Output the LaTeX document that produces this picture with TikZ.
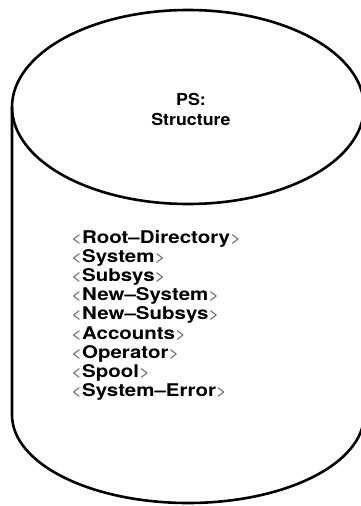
\documentclass[tikz,border=0pt]{standalone}
\usepackage{fontspec}
\usepackage{graphicx}
\setmainfont{TeX Gyre Heros}
\begin{document}
\begin{tikzpicture}[x=1pt,y=-1pt,
  outline/.style={line width=2.6pt, line join=round},
  entry/.style={anchor=base west, inner sep=0pt, font=\fontsize{17.5}{20}\selectfont\bfseries},
  title/.style={anchor=base, inner sep=0pt, font=\fontsize{16.5}{20}\selectfont\bfseries}]
\useasboundingbox (0,0) rectangle (361,506);
\newcommand{\ang}[1]{\scalebox{1.17}[1]{{\color{black!60}\mdseries\fontsize{16}{20}\selectfont<}#1{\color{black!60}\mdseries\fontsize{16}{20}\selectfont>}}}

% cylinder outline, cut at the right page edge
\begin{scope}
  \clip (0,0) rectangle (361,506);
  \draw[outline] (188,107) ellipse [x radius=176, y radius=97];
  \draw[outline] (12,107) -- (12,415)
    arc[start angle=180, end angle=0, x radius=176, y radius=88] -- (364,107);
\end{scope}

% label on the lid
\node[title] (ps) at (191,105) {\scalebox{1.08}[1]{PS:}};
\node[title] (structure) at (191,125) {\scalebox{1.08}[1]{Structure}};

% directory entries
\node[entry] (root)   at (71,243.0) {\ang{Root–Directory}};
\node[entry] (system) at (71,262.2) {\ang{System}};
\node[entry] (subsys) at (71,281.4) {\ang{Subsys}};
\node[entry] (newsys) at (71,300.6) {\ang{New–System}};
\node[entry] (newsub) at (71,319.8) {\ang{New–Subsys}};
\node[entry] (acct)   at (71,339.0) {\ang{Accounts}};
\node[entry] (oper)   at (71,358.2) {\ang{Operator}};
\node[entry] (spool)  at (71,377.4) {\ang{Spool}};
\node[entry] (syserr) at (71,396.6) {\ang{System–Error}};
\end{tikzpicture}
\end{document}
